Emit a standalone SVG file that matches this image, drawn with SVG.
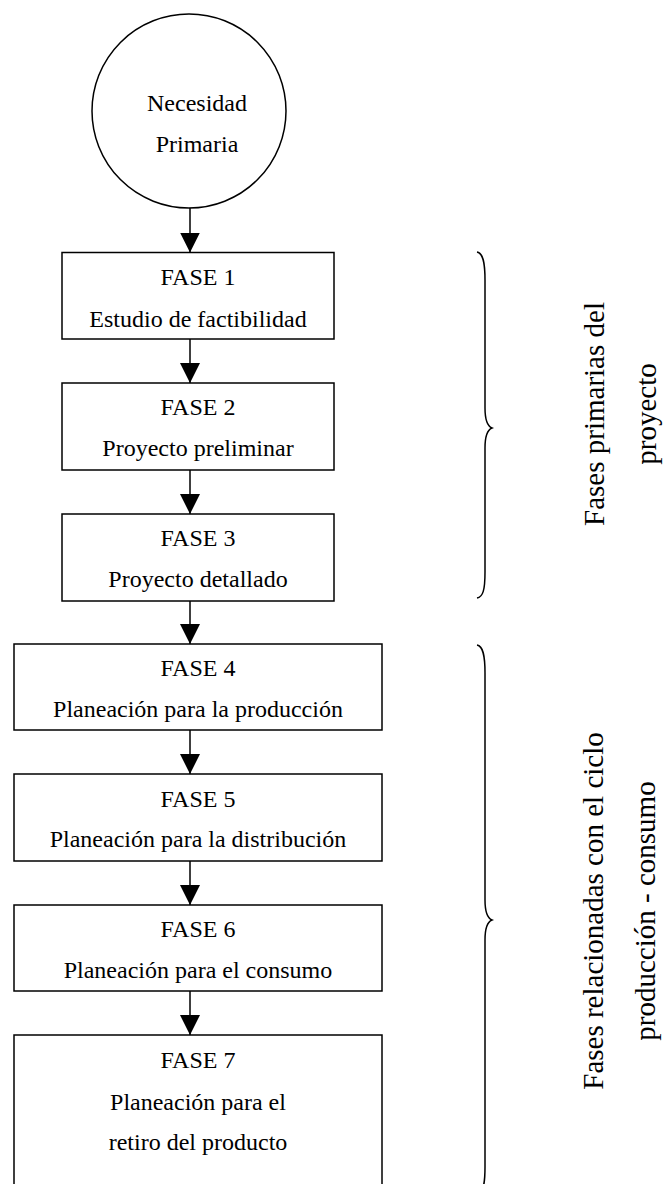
<svg xmlns="http://www.w3.org/2000/svg" width="665" height="1184" viewBox="0 0 665 1184">
  <style>
    .shape { fill: #ffffff; stroke: #000000; stroke-width: 1.5; }
    .lbl { font-family: "Liberation Serif", "Times New Roman", serif; font-size: 24px; fill: #000000; text-anchor: middle; }
    .side { font-family: "Liberation Serif", "Times New Roman", serif; font-size: 29px; fill: #000000; text-anchor: middle; }
    .edge { stroke: #000000; stroke-width: 1.5; fill: none; marker-end: url(#head); }
    .brace { stroke: #000000; stroke-width: 1.5; fill: none; }
  </style>
  <defs>
    <marker id="head" markerUnits="userSpaceOnUse" markerWidth="20" markerHeight="20" viewBox="0 0 20 20" refX="20" refY="10" orient="auto">
      <path d="M0,0 L20,10 L0,20 Z" fill="#000000"/>
    </marker>
  </defs>

  <rect width="665" height="1184" fill="#ffffff"/>

  <!-- connectors -->
  <g id="connectors">
    <line class="edge" x1="190" y1="208" x2="190" y2="252.5"/>
    <line class="edge" x1="190" y1="339" x2="190" y2="383"/>
    <line class="edge" x1="190" y1="470" x2="190" y2="514"/>
    <line class="edge" x1="190" y1="601" x2="190" y2="644"/>
    <line class="edge" x1="190" y1="730" x2="190" y2="774"/>
    <line class="edge" x1="190" y1="861" x2="190" y2="905"/>
    <line class="edge" x1="190" y1="991" x2="190" y2="1035"/>
  </g>

  <!-- start node -->
  <g id="necesidad">
    <circle class="shape" cx="189" cy="111" r="97"/>
    <text class="lbl" x="197" y="111">Necesidad</text>
    <text class="lbl" x="197" y="152">Primaria</text>
  </g>

  <g id="fase1">
    <rect class="shape" x="62" y="252.5" width="272" height="86.5"/>
    <text class="lbl" x="198" y="284.5">FASE 1</text>
    <text class="lbl" x="198" y="326.5">Estudio de factibilidad</text>
  </g>

  <g id="fase2">
    <rect class="shape" x="62" y="383" width="272" height="87"/>
    <text class="lbl" x="198" y="415">FASE 2</text>
    <text class="lbl" x="198" y="456">Proyecto preliminar</text>
  </g>

  <g id="fase3">
    <rect class="shape" x="62" y="514" width="272" height="87"/>
    <text class="lbl" x="198" y="546">FASE 3</text>
    <text class="lbl" x="198" y="587">Proyecto detallado</text>
  </g>

  <g id="fase4">
    <rect class="shape" x="14" y="644" width="368" height="86"/>
    <text class="lbl" x="198" y="676">FASE 4</text>
    <text class="lbl" x="198" y="717">Planeación para la producción</text>
  </g>

  <g id="fase5">
    <rect class="shape" x="14" y="774" width="368" height="87"/>
    <text class="lbl" x="198" y="807">FASE 5</text>
    <text class="lbl" x="198" y="847">Planeación para la distribución</text>
  </g>

  <g id="fase6">
    <rect class="shape" x="14" y="905" width="368" height="86"/>
    <text class="lbl" x="198" y="937">FASE 6</text>
    <text class="lbl" x="198" y="978">Planeación para el consumo</text>
  </g>

  <g id="fase7">
    <rect class="shape" x="14" y="1035" width="368" height="160"/>
    <text class="lbl" x="198" y="1068">FASE 7</text>
    <text class="lbl" x="198" y="1110">Planeación para el</text>
    <text class="lbl" x="198" y="1150">retiro del producto</text>
  </g>

  <!-- group braces with rotated captions -->
  <g id="grupo-primarias">
    <path class="brace" d="M477,252 C483,253 485,262 485,280 L485,408 C485,420 487,426 492,428 C487,430 485,436 485,448 L485,572 C485,590 483,597 477,598"/>
    <g transform="translate(604,414) rotate(-90)">
      <text class="side" x="0" y="0">Fases primarias del</text>
      <text class="side" x="0" y="52">proyecto</text>
    </g>
  </g>

  <g id="grupo-ciclo">
    <path class="brace" d="M477,645 C483,646 485,655 485,673 L485,900 C485,912 487,918 492,920 C487,922 485,928 485,940 L485,1167 C485,1185 483,1194 477,1195"/>
    <g transform="translate(603,911) rotate(-90)">
      <text class="side" x="0" y="0">Fases relacionadas con el ciclo</text>
      <text class="side" x="0" y="52">producción - consumo</text>
    </g>
  </g>
</svg>
